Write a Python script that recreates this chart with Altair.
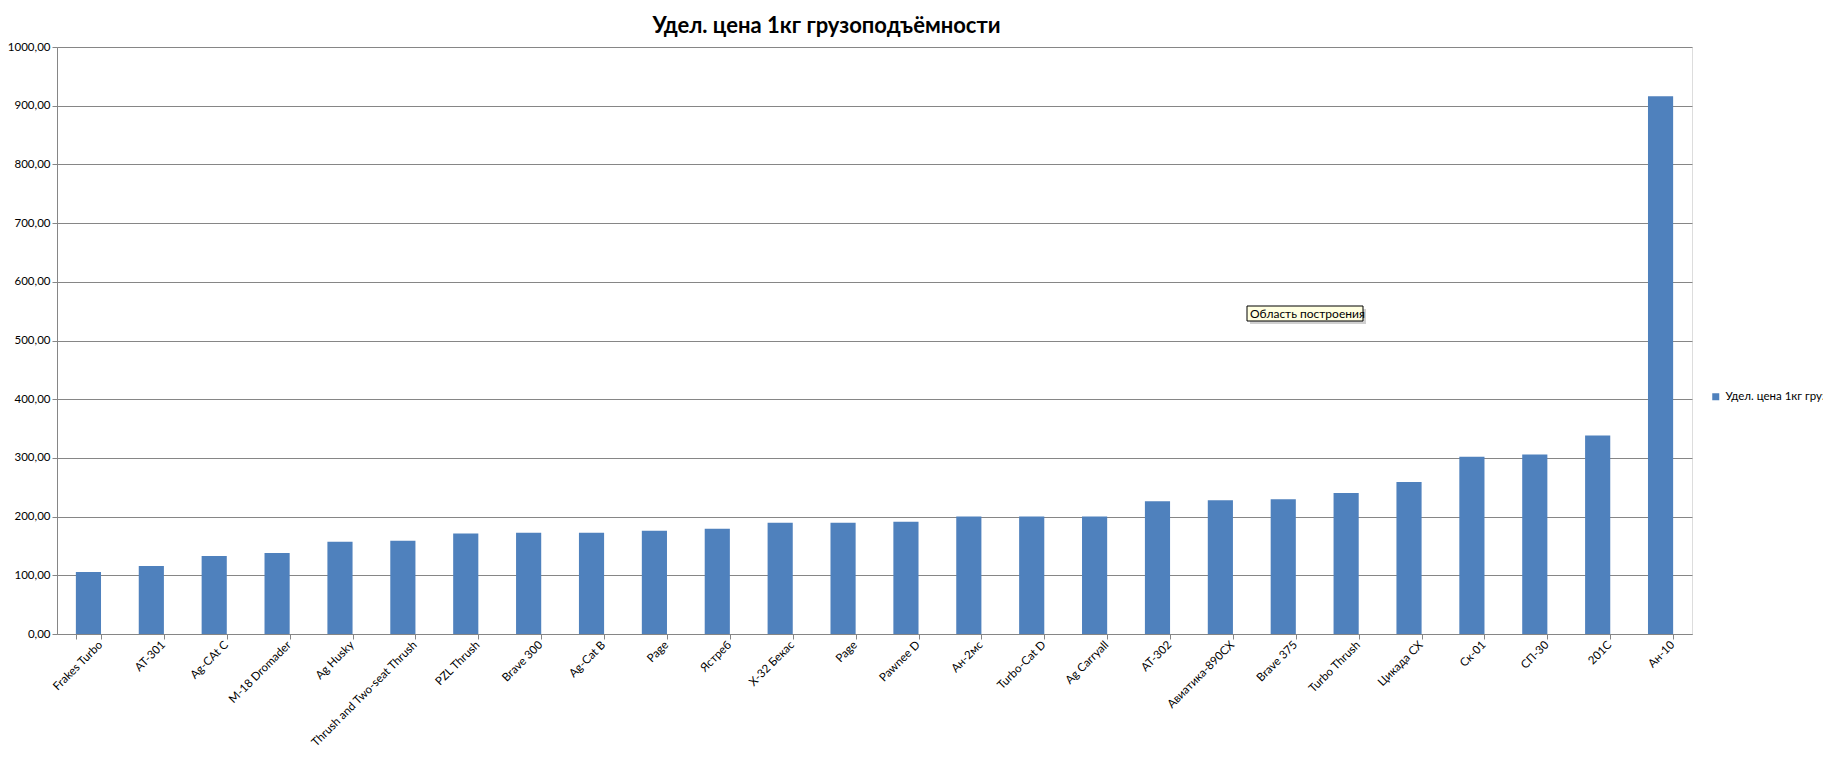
import json
import altair as alt
import pandas as pd

# ---- data ----
names = ["Frakes Turbo", "AT-301", "Ag-CAt C", "M-18 Dromader", "Ag Husky",
         "Thrush and Two-seat Thrush", "PZL Thrush", "Brave 300", "Ag-Cat B", "Page",
         "Ястреб", "X-32 Бекас", "Page", "Pawnee D", "Ан-2мс", "Turbo-Cat D",
         "Ag Carryall", "AT-302", "Авиатика-890СХ", "Brave 375", "Turbo Thrush",
         "Цикада  СХ", "Ск-01", "СП-30", "201С", "Ан-10"]
values = [105.7, 116, 133, 138, 157, 159, 171, 172.6, 172.6, 176,
          179.4, 189.7, 189.7, 191.4, 200, 200, 200, 226, 228, 229.7,
          240, 259, 302, 305.7, 338.3, 916]
series_name = "Удел. цена 1кг грузоподъёмности"
title_text = "Удел. цена 1кг грузоподъёмности"
y_ticks = list(range(0, 1001, 100))
tooltip_text = ["Область построения"]

FONT = "Lato"
GRID = "#868686"
BAR = "#4F81BD"

df = pd.DataFrame({"idx": list(range(len(names))), "value": values,
                   "series": [series_name] * len(names)})

label_expr_x = json.dumps(names, ensure_ascii=False) + "[datum.value]"

bars = alt.Chart(df).mark_bar().encode(
    x=alt.X("idx:O",
            scale=alt.Scale(paddingInner=0.6, paddingOuter=0.3),
            axis=alt.Axis(title=None, labelAngle=-45, labelAlign="right",
                          labelBaseline="middle", labelExpr=label_expr_x,
                          tickBand="extent", tickSize=5, tickColor=GRID,
                          domainColor=GRID, labelFontSize=11.5, labelFont=FONT,
                          labelColor="#000", labelPadding=4, labelOffset=12,
                          grid=False, labelOverlap=False)),
    y=alt.Y("value:Q",
            scale=alt.Scale(domain=[0, 1000]),
            axis=alt.Axis(title=None, values=y_ticks,
                          labelExpr="replace(format(datum.value, '.2f'), '.', ',')",
                          grid=True, gridColor=GRID, domainColor=GRID,
                          tickColor=GRID, tickSize=5, labelPadding=2,
                          labelFontSize=11.5, labelFont=FONT, labelColor="#000")),
    color=alt.Color("series:N", scale=alt.Scale(range=[BAR]),
                    legend=alt.Legend(title=None, orient="none", legendX=1653,
                                      legendY=344, symbolType="square",
                                      symbolSize=49, symbolStrokeWidth=0,
                                      labelFontSize=11.5, labelFont=FONT,
                                      labelColor="#000", padding=0,
                                      labelOffset=4, labelLimit=0)),
)

tip_df = pd.DataFrame({"t": tooltip_text})
tip_shadow = alt.Chart(tip_df).mark_rect(fill="#b0b0b0", opacity=0.6).encode(
    x=alt.value(1193), x2=alt.value(1309), y=alt.value(262), y2=alt.value(277))
tip_box = alt.Chart(tip_df).mark_rect(fill="#FFFFE1", stroke="#000", strokeWidth=1).encode(
    x=alt.value(1190), x2=alt.value(1306), y=alt.value(259), y2=alt.value(274))
tip_text = alt.Chart(tip_df).mark_text(align="left", baseline="middle", fontSize=12,
                                       font=FONT, color="#000").encode(
    x=alt.value(1193), y=alt.value(266.5), text="t:N")

chart = alt.layer(bars, tip_shadow, tip_box, tip_text).properties(
    width=1635, height=587,
    title=alt.TitleParams(text=title_text, fontSize=22, font=FONT, fontWeight="bold",
                          color="#000", anchor="middle", dx=-48, dy=23, offset=9,
                          baseline="alphabetic"),
    padding={"left": 49, "top": 39, "right": 131, "bottom": 118},
    autosize=alt.AutoSizeParams(type="none"),
).configure_view(stroke=None).configure(background="white")

chart.save("out.html", embed_options={"renderer": "svg", "actions": False})
